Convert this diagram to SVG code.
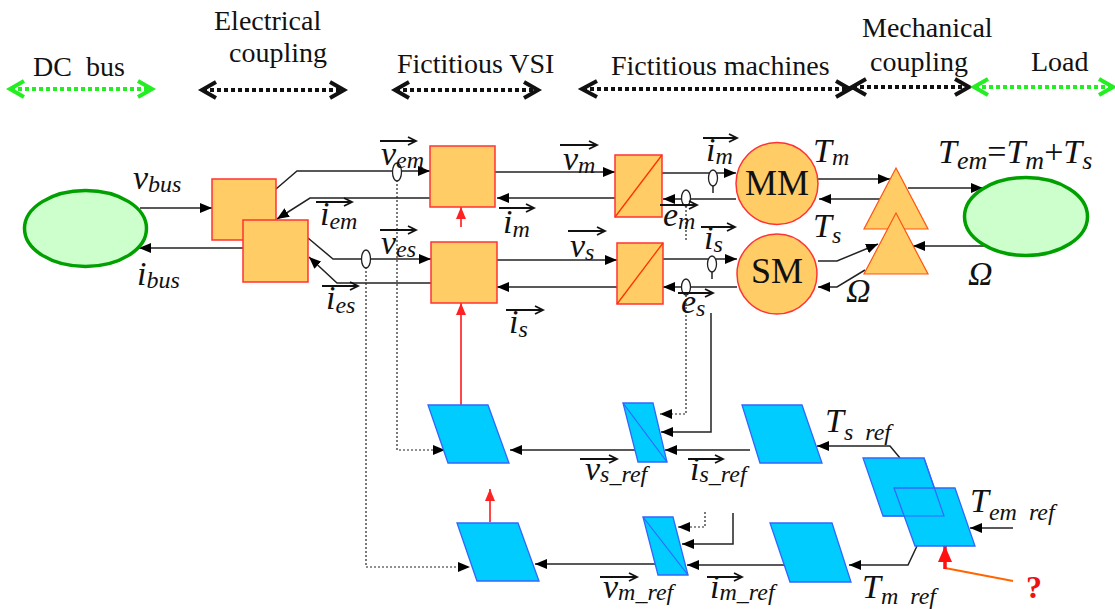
<svg xmlns="http://www.w3.org/2000/svg" width="1115" height="610" viewBox="0 0 1115 610">
<style>
.hd{font-size:28px;fill:#111}
.hl{fill:none;stroke-width:4;stroke-dasharray:4 3}
.hc{fill:none;stroke-width:4}
.k{stroke:#111}
.g{stroke:#22ee22}
.box{fill:#ffcc66;stroke:#ff3333;stroke-width:1.5}
.tri{fill:#ffcc66;stroke:#ff5511;stroke-width:1.2}
.blue{fill:#00ccff;stroke:#3366ff;stroke-width:1.3}
.ell{fill:#ccffcc;stroke:#00a000;stroke-width:3.5}
.ln{fill:none;stroke:#222;stroke-width:1.5}
.dt{fill:none;stroke:#222;stroke-width:1.2;stroke-dasharray:2 2}
.sen{fill:#fff;stroke:#222;stroke-width:1.3}
.va{fill:none;stroke:#111;stroke-width:1.8}
.m{font-style:italic;font-size:34px;fill:#111}
.s{font-size:24px}
.big{font-size:36px;fill:#111}
</style>
<defs>
<marker id="ah" viewBox="0 0 12 10" refX="12" refY="5" markerWidth="12" markerHeight="10" markerUnits="userSpaceOnUse" orient="auto"><path d="M0,0 L12,5 L0,10 z" fill="#000"/></marker>
<marker id="rh" viewBox="0 0 12 10" refX="12" refY="5" markerWidth="12" markerHeight="10" markerUnits="userSpaceOnUse" orient="auto"><path d="M0,0 L12,5 L0,10 z" fill="#ff2222"/></marker>
<marker id="rh2" viewBox="0 0 16 14" refX="16" refY="7" markerWidth="16" markerHeight="14" markerUnits="userSpaceOnUse" orient="auto"><path d="M0,0 L16,7 L0,14 z" fill="#ff1111"/></marker>
</defs>

<g id="header" font-family="Liberation Serif, Times New Roman, serif">
<text class="hd" x="33" y="76" xml:space="preserve">DC  bus</text>
<path class="hl g" d="M11,89 H151"/><path class="hc g" d="M24,81 L10,89 L24,97 M138,81 L152,89 L138,97"/>
<text class="hd" x="214" y="30">Electrical</text>
<text class="hd" x="229" y="62">coupling</text>
<path class="hl k" d="M203,90 H342"/><path class="hc k" d="M216,82 L202,90 L216,98 M330,82 L344,90 L330,98"/>
<text class="hd" x="397" y="73">Fictitious VSI</text>
<path class="hl k" d="M396,90 H536"/><path class="hc k" d="M409,82 L395,90 L409,98 M524,82 L538,90 L524,98"/>
<text class="hd" x="611" y="75">Fictitious machines</text>
<path class="hl k" d="M583,89 H848"/><path class="hc k" d="M597,81 L582,89 L597,97 M836,81 L850,89 L836,97"/>
<text class="hd" x="862" y="37">Mechanical</text>
<text class="hd" x="870" y="71">coupling</text>
<path class="hl k" d="M853,87 H966"/><path class="hc k" d="M866,79 L852,87 L866,95 M955,79 L969,87 L955,95"/>
<text class="hd" x="1031" y="71">Load</text>
<path class="hl g" d="M975,87 H1110"/><path class="hc g" d="M988,79 L974,87 L988,95 M1099,79 L1113,87 L1099,95"/>
</g>

<g id="connectors">
<path class="ln" marker-end="url(#ah)" d="M140,208 H212"/>
<path class="ln" marker-end="url(#ah)" d="M243,248 H139"/>
<path class="ln" marker-end="url(#ah)" d="M276,189 L297,171 H430"/>
<path class="ln" marker-end="url(#ah)" d="M430,198 H310 L277,219"/>
<path class="ln" marker-end="url(#ah)" d="M308,238 L333,259 H431"/>
<path class="ln" marker-end="url(#ah)" d="M431,283 H337 L309,257"/>
<path class="dt" marker-end="url(#ah)" d="M397,180 V450 H445"/>
<path class="dt" marker-end="url(#ah)" d="M366,267 V567 H470"/>
<path class="ln" marker-end="url(#ah)" d="M495,172 H615"/>
<path class="ln" marker-end="url(#ah)" d="M622,198 H497"/>
<path class="ln" marker-end="url(#ah)" d="M497,260 H617"/>
<path class="ln" marker-end="url(#ah)" d="M620,287 H497"/>
<path class="ln" marker-end="url(#ah)" d="M662,173 H736"/>
<path class="ln" marker-end="url(#ah)" d="M736,199 H663"/>
<path class="dt" d="M686,206 V240"/>
<path class="ln" marker-end="url(#ah)" d="M663,259 H737"/>
<path class="ln" marker-end="url(#ah)" d="M737,287 H663"/>
<path class="dt" marker-end="url(#ah)" d="M686,295 V414 H660"/>
<path class="ln" marker-end="url(#ah)" d="M711,313 V432 H661"/>
<path class="ln" marker-end="url(#ah)" d="M818,179 H890"/>
<path class="ln" marker-end="url(#ah)" d="M880,199 H819"/>
<path class="ln" marker-end="url(#ah)" d="M818,261 H837 L878,244"/>
<path class="ln" marker-end="url(#ah)" d="M865,270 L837,287 H818"/>
<path class="ln" marker-end="url(#ah)" d="M908,188 H983"/>
<path class="ln" marker-end="url(#ah)" d="M986,246 H913"/>
<path stroke="#ff3333" stroke-width="1.8" fill="none" marker-end="url(#rh)" d="M461,227 V207"/>
<path stroke="#ff3333" stroke-width="1.8" fill="none" marker-end="url(#rh)" d="M461,405 V303"/>
<path stroke="#ff3333" stroke-width="1.8" fill="none" marker-end="url(#rh)" d="M490,522 V489"/>
<path stroke="#ff6600" stroke-width="2" fill="none" d="M1013,581 L945,568"/>
<path stroke="#ff1111" stroke-width="3.5" fill="none" marker-end="url(#rh2)" d="M945,569 V546"/>
<path class="ln" marker-end="url(#ah)" d="M750,450 H665"/>
<path class="ln" marker-end="url(#ah)" d="M635,450 H510"/>
<path class="ln" marker-end="url(#ah)" d="M900,458 L890,446 H817"/>
<path class="ln" marker-end="url(#ah)" d="M917,546 L908,565 H849"/>
<path class="ln" marker-end="url(#ah)" d="M784,565 H687"/>
<path class="ln" marker-end="url(#ah)" d="M655,564 H535"/>
<path class="dt" marker-end="url(#ah)" d="M705,512 V527 H678"/>
<path class="ln" marker-end="url(#ah)" d="M733,513 V544 H682"/>
<path class="ln" marker-end="url(#ah)" d="M1013,528 H970"/>
</g>

<g id="sensors">
<ellipse class="sen" cx="397" cy="172" rx="4.5" ry="9"/>
<ellipse class="sen" cx="366" cy="259" rx="4.5" ry="9"/>
<ellipse class="sen" cx="713" cy="178" rx="4.5" ry="8"/><path class="ln" d="M713,186 V193"/>
<ellipse class="sen" cx="686" cy="198" rx="4.5" ry="8"/>
<ellipse class="sen" cx="712" cy="264" rx="4.5" ry="8"/><path class="ln" d="M712,272 V279"/>
<ellipse class="sen" cx="686" cy="287" rx="4.5" ry="8"/>
</g>

<g id="dc-bus"><ellipse class="ell" cx="85.5" cy="228.5" rx="61" ry="38"/></g>
<g id="coupling-m"><rect class="box" x="212" y="179" width="64" height="61"/></g>
<g id="coupling-s"><rect class="box" x="243" y="220" width="65" height="62"/></g>
<g id="vsi-m"><rect class="box" x="430" y="146" width="65" height="61"/></g>
<g id="vsi-s"><rect class="box" x="431" y="242" width="66" height="61"/></g>
<g id="conv-m"><rect class="box" x="615" y="155" width="47" height="62"/><path d="M615,217 L662,155" stroke="#ff3300" stroke-width="1.3"/></g>
<g id="conv-s"><rect class="box" x="617" y="243" width="46" height="61"/><path d="M617,304 L663,243" stroke="#ff3300" stroke-width="1.3"/></g>
<g id="mm" font-family="Liberation Serif, Times New Roman, serif"><circle class="box" cx="777" cy="183.5" r="41"/><text class="big" x="777" y="195" text-anchor="middle">MM</text></g>
<g id="sm" font-family="Liberation Serif, Times New Roman, serif"><circle class="box" cx="777" cy="274" r="40"/><text class="big" x="777" y="283" text-anchor="middle">SM</text></g>
<g id="mech-1"><path class="tri" d="M896,168 L928,229 L864,229 Z"/></g>
<g id="mech-2"><path class="tri" d="M896,213 L928,274 L864,274 Z"/></g>
<g id="load"><ellipse class="ell" cx="1026" cy="216.5" rx="61.5" ry="39"/></g>

<g id="ref-vsi-s"><path class="blue" d="M428,405 L488,405 L509,463 L448,463 Z"/></g>
<g id="ref-conv-s"><path class="blue" d="M623,403 L653,403 L667,462 L638,462 Z"/><path d="M623,403 L667,462" stroke="#3366ff" stroke-width="1.2"/></g>
<g id="ref-ts"><path class="blue" d="M742,405 L802,405 L822,463 L760,463 Z"/></g>
<g id="ref-split-1"><path class="blue" d="M863,458 L924,458 L944,516 L883,516 Z"/></g>
<g id="ref-split-2"><path class="blue" d="M894,488 L955,488 L975,546 L915,546 Z"/><path d="M924,458 L944,516 L883,516" fill="none" stroke="#3366ff" stroke-width="1.2"/></g>
<g id="ref-tm"><path class="blue" d="M770,523 L832,523 L851,582 L790,582 Z"/></g>
<g id="ref-conv-m"><path class="blue" d="M643,517 L673,517 L688,575 L658,575 Z"/><path d="M643,517 L688,575" stroke="#3366ff" stroke-width="1.2"/></g>
<g id="ref-vsi-m"><path class="blue" d="M457,523 L518,523 L539,581 L477,581 Z"/></g>

<g id="labels" font-family="Liberation Serif, Times New Roman, serif">
<text class="m" x="133" y="189">v<tspan class="s" dy="3">bus</tspan></text>
<text class="m" x="137" y="285">i<tspan class="s" dy="3">bus</tspan></text>
<text class="m" x="381" y="165">v<tspan class="s" dy="3">em</tspan></text>
<path class="va" d="M380,141 H416 M408,137 L416,141 L408,145"/>
<text class="m" x="381" y="254">v<tspan class="s" dy="3">es</tspan></text>
<path class="va" d="M380,230 H416 M408,226 L416,230 L408,234"/>
<text class="m" x="320" y="225">i<tspan class="s" dy="4">em</tspan></text>
<path class="va" d="M316,202 H352 M344,198 L352,202 L344,206"/>
<text class="m" x="326" y="309">i<tspan class="s" dy="4">es</tspan></text>
<path class="va" d="M322,286 H358 M350,282 L358,286 L350,290"/>
<text class="m" x="563" y="170">v<tspan class="s" dy="3">m</tspan></text>
<path class="va" d="M560,145 H597 M589,141 L597,145 L589,149"/>
<text class="m" x="503" y="233">i<tspan class="s" dy="4">m</tspan></text>
<path class="va" d="M499,208 H534 M526,204 L534,208 L526,212"/>
<text class="m" x="570" y="257">v<tspan class="s" dy="3">s</tspan></text>
<path class="va" d="M568,231 H605 M597,227 L605,231 L597,235"/>
<text class="m" x="509" y="333">i<tspan class="s" dy="4">s</tspan></text>
<path class="va" d="M506,310 H543 M535,306 L543,310 L535,314"/>
<text class="m" x="706" y="161">i<tspan class="s" dy="3">m</tspan></text>
<path class="va" d="M703,138 H737 M729,134 L737,138 L729,142"/>
<text class="m" x="663" y="226">e<tspan class="s" dy="3">m</tspan></text>
<path class="va" d="M660,205 H697 M689,201 L697,205 L689,209"/>
<text class="m" x="704" y="249">i<tspan class="s" dy="3">s</tspan></text>
<path class="va" d="M701,227 H735 M727,223 L735,227 L727,231"/>
<text class="m" x="681" y="313">e<tspan class="s" dy="3">s</tspan></text>
<path class="va" d="M678,293 H713 M705,289 L713,293 L705,297"/>
<text class="m" x="813" y="162">T<tspan class="s" dy="3">m</tspan></text>
<text class="m" x="813" y="237">T<tspan class="s" dy="6">s</tspan></text>
<text class="m" x="846" y="302">Ω</text>
<text class="m" x="968" y="285">Ω</text>
<text class="m" x="938" y="163" font-size="36">T<tspan font-size="26" dy="6">em</tspan><tspan dy="-6" font-style="normal">=</tspan>T<tspan font-size="26" dy="6">m</tspan><tspan dy="-6" font-style="normal">+</tspan>T<tspan font-size="26" dy="6">s</tspan></text>
<text class="m" x="585" y="480">v<tspan class="s" dy="2">s_ref</tspan></text>
<path class="va" d="M580,459 H617 M609,455 L617,459 L609,463"/>
<text class="m" x="690" y="480">i<tspan class="s" dy="2">s_ref</tspan></text>
<path class="va" d="M688,459 H723 M715,455 L723,459 L715,463"/>
<text class="m" x="603" y="598">v<tspan class="s" dy="2">m_ref</tspan></text>
<path class="va" d="M600,577 H637 M629,573 L637,577 L629,581"/>
<text class="m" x="710" y="598">i<tspan class="s" dy="2">m_ref</tspan></text>
<path class="va" d="M707,577 H742 M734,573 L742,577 L734,581"/>
<text class="m" x="825" y="432" xml:space="preserve">T<tspan class="s" dy="8">s  ref</tspan></text>
<text class="m" x="970" y="512" xml:space="preserve">T<tspan class="s" dy="8">em  ref</tspan></text>
<text class="m" x="862" y="598" xml:space="preserve">T<tspan class="s" dy="6">m  ref</tspan></text>
<text x="1026" y="598" font-weight="bold" font-size="32" fill="#ee1111">?</text>
</g>
</svg>
